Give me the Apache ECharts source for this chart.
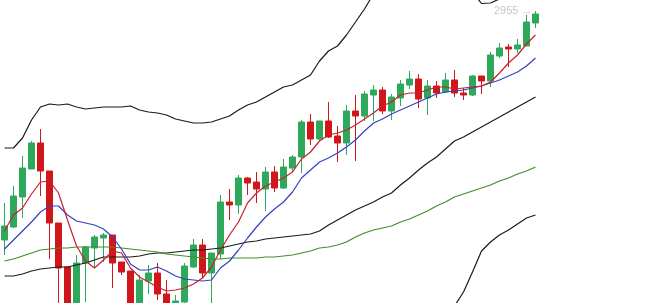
<!DOCTYPE html>
<html>
<head>
<meta charset="utf-8">
<script src="https://cdn.jsdelivr.net/npm/echarts@6/dist/echarts.min.js"></script>
<style>
html,body{margin:0;padding:0;background:#fff;}
#chart{width:664px;height:303px;}
</style>
</head>
<body>
<div id="chart"></div>
<script>
// categories: trading days 1..60
var days = [];
for (var d = 1; d <= 60; d++) { days.push('D' + d); }

// candles: [open, close, lowest, highest]
var candles = [
  [2726,2740,2711,2763],[2739,2770,2738,2780],[2769,2798,2748,2810],[2797,2823,2797,2825],
  [2823,2795,2770,2837],[2795,2743,2707,2795],[2743,2698,2656,2743],[2699,2651,2636,2699],
  [2646,2703,2636,2711],[2703,2719,2664,2720],[2718,2729,2698,2731],[2728,2731,2704,2733],
  [2731,2703,2678,2731],[2704,2694,2691,2704],[2695,2656,2651,2695],[2656,2686,2651,2691],
  [2685,2693,2672,2701],[2693,2672,2666,2703],[2672,2661,2656,2686],[2660,2665,2656,2671],
  [2664,2700,2661,2703],[2699,2721,2698,2727],[2721,2693,2688,2727],[2693,2713,2656,2713],
  [2712,2764,2707,2771],[2764,2761,2746,2777],[2761,2788,2752,2791],[2788,2783,2771,2789],
  [2784,2777,2763,2794],[2777,2794,2755,2799],[2794,2778,2774,2800],[2778,2799,2777,2807],
  [2798,2809,2794,2811],[2809,2844,2793,2846],[2844,2827,2821,2852],[2827,2845,2825,2845],
  [2845,2829,2828,2864],[2830,2823,2804,2840],[2823,2855,2811,2861],[2855,2850,2805,2871],
  [2850,2872,2845,2875],[2871,2876,2845,2881],[2876,2855,2852,2879],[2855,2869,2846,2872],
  [2868,2882,2860,2886],[2881,2887,2877,2895],[2887,2867,2858,2892],[2868,2880,2851,2886],
  [2880,2873,2868,2885],[2874,2886,2873,2893],[2886,2873,2869,2896],[2873,2871,2866,2878],
  [2871,2890,2870,2891],[2890,2885,2872,2890],[2885,2911,2879,2914],[2910,2918,2908,2923],
  [2919,2917,2899,2922],[2917,2921,2913,2927],[2920,2944,2920,2951],[2943,2952,2938,2955]
];

var ma5 = [2735,2751,2758,2772,2784,2785,2773,2746,2720,2705,2698,2706,2715,2713,2698,2689,2684,2679,2675,2676,
  2678,2682,2688,2699,2716,2731,2744,2763,2773,2780,2784,2788,2794,2807,2814,2825,2831,2833,2836,2841,
  2847,2853,2860,2864,2871,2873,2873,2876,2879,2879,2877,2878,2879,2880,2884,2893,2903,2911,2922,2931];

var ma10 = [2717,2726,2735,2744,2754,2760,2760,2751,2745,2743,2741,2737,2729,2717,2702,2696,2696,2699,2695,2690,
  2687,2686,2685,2686,2698,2705,2716,2728,2739,2749,2757,2764,2774,2788,2796,2804,2808,2813,2819,2826,
  2835,2843,2847,2852,2856,2860,2864,2868,2872,2874,2875,2876,2878,2880,2883,2886,2890,2894,2900,2908];

var maLong = [2705,2707,2710,2713,2716,2717,2718,2718,2719,2719,2719,2719,2719,2718,2717,2716,2715,2714,2712,2711,
  2710,2709,2708,2707,2707,2708,2708,2708,2708,2709,2709,2710,2711,2713,2715,2718,2719,2721,2724,2729,
  2733,2736,2738,2740,2744,2747,2751,2755,2760,2764,2769,2772,2775,2778,2781,2785,2788,2792,2795,2799];

var bollMid = [2690,2690,2692,2695,2697,2698,2699,2699,2701,2703,2706,2709,2709,2709,2709,2710,2712,2713,2713,2714,
  2715,2716,2716,2717,2718,2720,2722,2724,2725,2727,2728,2729,2730,2731,2732,2735,2741,2746,2751,2756,
  2760,2764,2769,2773,2781,2788,2796,2803,2809,2817,2825,2829,2834,2839,2844,2849,2854,2859,2864,2869];

var bollUp = [2818,2818,2828,2846,2859,2862,2861,2862,2859,2857,2858,2859,2859,2859,2860,2856,2854,2853,2851,2847,
  2845,2843,2843,2844,2847,2850,2856,2861,2864,2869,2874,2879,2881,2886,2891,2905,2915,2920,2931,2944,
  2957,2972,2981,2991,2998,3002,3004,3004,3001,2996,2990,2982,2974,2962.5,2963,2967,2973,2977,2982,2987];

var bollLow = [2562,2562,2556,2544,2535,2534,2537,2536,2543,2549,2554,2559,2559,2557,2558,2564,2570,2571,2575,2581,
  2587,2593,2591,2590,2589,2590,2588,2587,2586,2585,2582,2579,2579,2576,2573,2565,2567,2574,2573,2571,
  2565,2558,2557,2555,2564,2574,2588,2602,2617,2638,2660,2674,2694,2715,2724,2731,2736,2742,2748,2751];

var lastHigh = 2955;

function line(name, data, color) {
  return {
    name: name, type: 'line', data: data, symbol: 'none', smooth: false,
    lineStyle: { width: 1.2, color: color }, itemStyle: { color: color },
    silent: true, z: 3
  };
}

var chart = echarts.init(document.getElementById('chart'), null, { renderer: 'canvas' });
chart.setOption({
  animation: false,
  backgroundColor: '#ffffff',
  grid: { left: 0, right: 124, top: 0, bottom: 0 },
  xAxis: { type: 'category', data: days, show: false, boundaryGap: true },
  yAxis: { type: 'value', show: false, min: 2663, max: 2966, splitLine: { show: false } },
  series: [
    {
      name: 'K', type: 'candlestick', data: candles, barWidth: 6, z: 2,
      itemStyle: { color: '#2ea85a', color0: '#d0161b', borderColor: '#2ea85a', borderColor0: '#d0161b', borderWidth: 1 },
      markPoint: {
        symbol: 'circle', symbolSize: 2,
        itemStyle: { color: 'rgba(0,0,0,0)', borderWidth: 0 },
        label: { show: true, position: 'left', distance: 2, formatter: '{c} →', color: '#c8c8c8', fontSize: 11, fontFamily: 'sans-serif' },
        data: [{ name: 'high', coord: [days.length - 1, lastHigh], value: lastHigh }]
      }
    },
    line('BOLL-UP', bollUp, '#1a1a1a'),
    line('BOLL-MID', bollMid, '#1a1a1a'),
    line('BOLL-LOW', bollLow, '#1a1a1a'),
    line('MA-L', maLong, '#3f8f2a'),
    line('MA10', ma10, '#3440c0'),
    line('MA5', ma5, '#c8202f')
  ]
});
</script>
</body>
</html>
